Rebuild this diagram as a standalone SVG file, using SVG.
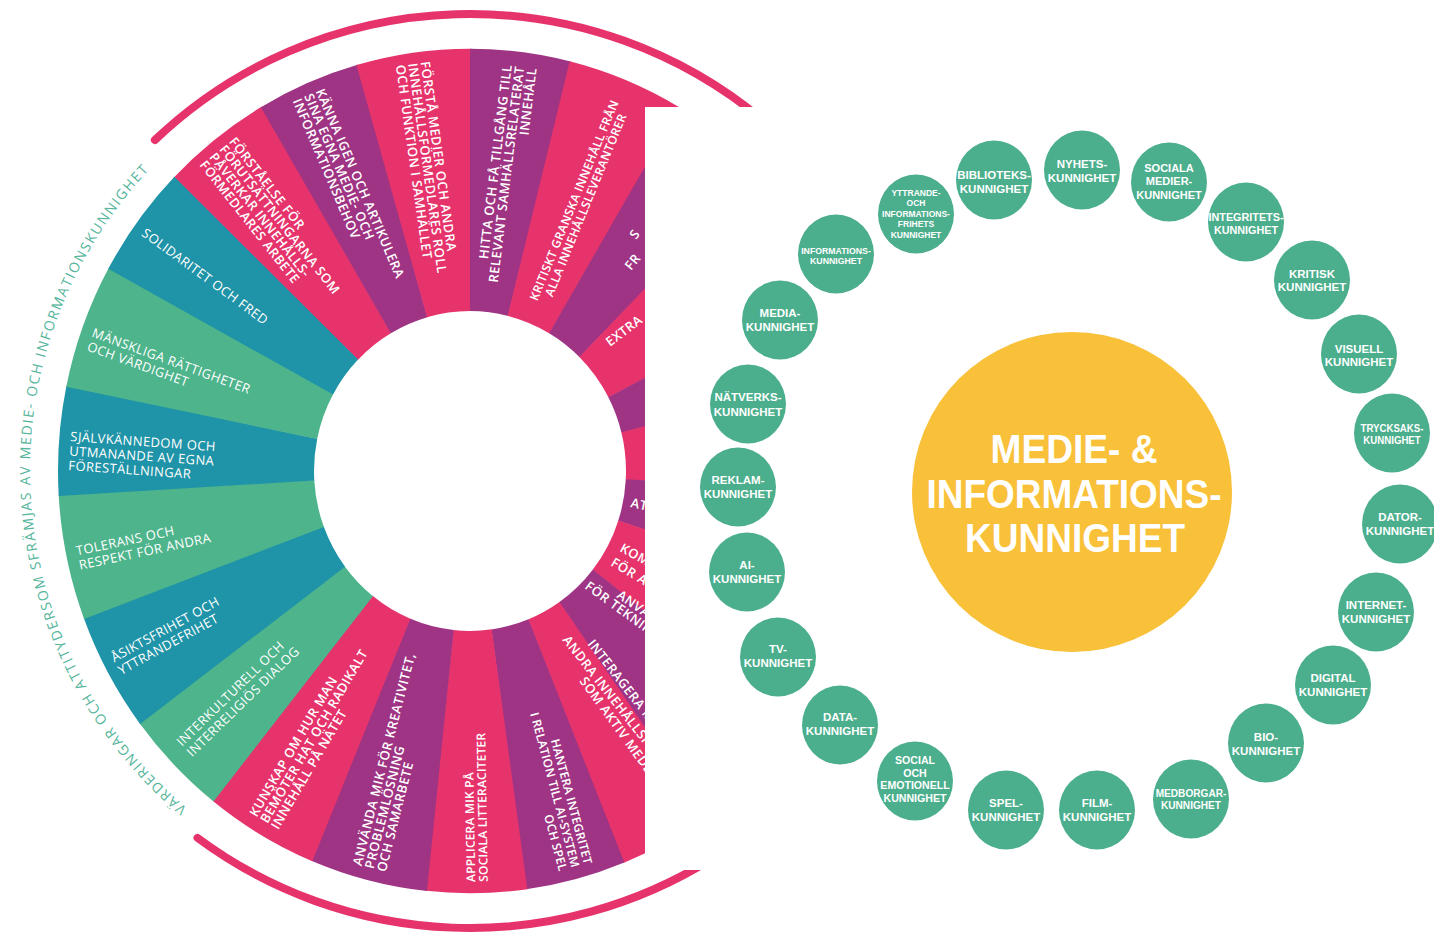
<svg xmlns="http://www.w3.org/2000/svg" xmlns:xlink="http://www.w3.org/1999/xlink" width="1434" height="935" viewBox="0 0 1434 935">
<style>
.s{fill:none;stroke-width:256}
.pk{stroke:#E6336B}
.pu{stroke:#9E3483}
.te{stroke:#1F93A7}
.gr{stroke:#4DB48B}
.val{font-family:"Open Sans","Liberation Sans",sans-serif;font-size:13px;font-weight:400;fill:#fff;letter-spacing:0.4px}
.mik{font-family:"Open Sans","Liberation Sans",sans-serif;font-size:13px;font-weight:600;fill:#fff;letter-spacing:0.5px}
.sm{font-size:12px;letter-spacing:0.2px}
.e{text-anchor:end}
.m{text-anchor:middle}
.arc{fill:none;stroke:#E6336B;stroke-width:8;stroke-linecap:round}
.curve{font-family:"Open Sans","Liberation Sans",sans-serif;font-size:14px;fill:#55B59B;letter-spacing:1.2px}
.node{fill:#4BAE8C}
.nt{font-family:"Liberation Sans",Arial,sans-serif;font-weight:700;font-size:11.5px;fill:#fff;text-anchor:middle}
.ct{font-family:"Liberation Sans",Arial,sans-serif;font-weight:700;font-size:41px;fill:#fff;text-anchor:middle}
</style>
<defs>
<path id="vpath" d="M 187.2 808.1 A 440 440 0 0 1 153.5 165.3" fill="none"/>
</defs>
<rect width="1434" height="935" fill="#fff"/>

<g id="wheel" transform="translate(470 471) scale(1 1.025)">
<circle class="s pk" r="284" transform="rotate(-136)" stroke-dasharray="77.6 2000"/>
<circle class="s pu" r="284" transform="rotate(-120.5)" stroke-dasharray="72.7 2000"/>
<circle class="s pk" r="284" transform="rotate(-106)" stroke-dasharray="80.1 2000"/>
<circle class="s pu" r="284" transform="rotate(-90)" stroke-dasharray="70.2 2000"/>
<circle class="s pk" r="284" transform="rotate(-76)" stroke-dasharray="82.6 2000"/>
<circle class="s pu" r="284" transform="rotate(-59.5)" stroke-dasharray="70.2 2000"/>
<circle class="s pk" r="284" transform="rotate(-45.5)" stroke-dasharray="90 2000"/>
<circle class="s pu" r="284" transform="rotate(-27.5)" stroke-dasharray="67.7 2000"/>
<circle class="s pk" r="284" transform="rotate(-14)" stroke-dasharray="85.1 2000"/>
<circle class="s pu" r="284" transform="rotate(3)" stroke-dasharray="75.2 2000"/>
<circle class="s pk" r="284" transform="rotate(18)" stroke-dasharray="99.9 2000"/>
<circle class="s pu" r="284" transform="rotate(38)" stroke-dasharray="85.1 2000"/>
<circle class="s pk" r="284" transform="rotate(55)" stroke-dasharray="65.2 2000"/>
<circle class="s pu" r="284" transform="rotate(68)" stroke-dasharray="70.2 2000"/>
<circle class="s pk" r="284" transform="rotate(82)" stroke-dasharray="70.2 2000"/>
<circle class="s pu" r="284" transform="rotate(96)" stroke-dasharray="82.6 2000"/>
<circle class="s pk" r="284" transform="rotate(112.5)" stroke-dasharray="80.1 2000"/>
<circle class="s gr" r="284" transform="rotate(128.5)" stroke-dasharray="73.7 2000"/>
<circle class="s te" r="284" transform="rotate(143.2)" stroke-dasharray="81.6 2000"/>
<circle class="s gr" r="284" transform="rotate(159.5)" stroke-dasharray="85.6 2000"/>
<circle class="s te" r="284" transform="rotate(176.6)" stroke-dasharray="74.7 2000"/>
<circle class="s gr" r="284" transform="rotate(191.5)" stroke-dasharray="85.6 2000"/>
<circle class="s te" r="284" transform="rotate(208.6)" stroke-dasharray="77.1 2000"/>
</g>

<g id="wheel-labels">
<g id="l-solidaritet" class="val" transform="translate(470 471) rotate(36.3)"><text x="-405" y="4.6">SOLIDARITET OCH FRED</text></g>
<g id="l-manskliga" class="val" transform="translate(470 471) rotate(20)"><text x="-402" y="3.3">MÄNSKLIGA RÄTTIGHETER</text><text x="-402" y="17.8">OCH VÄRDIGHET</text></g>
<g id="l-sjalvkannedom" class="val" transform="translate(470 471) rotate(4)"><text x="-401" y="-2">SJÄLVKÄNNEDOM OCH</text><text x="-401" y="12.5">UTMANANDE AV EGNA</text><text x="-401" y="27">FÖRESTÄLLNINGAR</text></g>
<g id="l-tolerans" class="val" transform="translate(470 471) rotate(-11.95)"><text x="-402" y="1.4">TOLERANS OCH</text><text x="-402" y="15.9">RESPEKT FÖR ANDRA</text></g>
<g id="l-asiktsfrihet" class="val" transform="translate(470 471) rotate(-28.65)"><text x="-404" y="-2.6">ÅSIKTSFRIHET OCH</text><text x="-404" y="11.9">YTTRANDEFRIHET</text></g>
<g id="l-interkulturell" class="val" transform="translate(470 471) rotate(-44.15)"><text x="-399" y="-2.6">INTERKULTURELL OCH</text><text x="-399" y="11.9">INTERRELIGIÖS DIALOG</text></g>

<g id="l-kunskap" class="mik" transform="translate(470 471) rotate(-59.5)"><text x="-407" y="-7.9">KUNSKAP OM HUR MAN</text><text x="-407" y="4.6">BEMÖTER HAT OCH RADIKALT</text><text x="-407" y="17.1">INNEHÅLL PÅ NÄTET</text></g>
<g id="l-anvanda" class="mik" transform="translate(470 471) rotate(-75.75)"><text x="-410" y="-7.9">ANVÄNDA MIK FÖR KREATIVITET,</text><text x="-410" y="4.6">PROBLEMLÖSNING</text><text x="-410" y="17.1">OCH SAMARBETE</text></g>
<g id="l-applicera" class="mik sm" transform="translate(470 471) rotate(-91)"><text x="-411" y="-1.9">APPLICERA MIK PÅ</text><text x="-411" y="10.6">SOCIALA LITTERACITETER</text></g>
<g id="l-hantera" class="mik sm e" transform="translate(470 471) rotate(75)"><text x="410" y="-8.2">HANTERA INTEGRITET</text><text x="410" y="4.8">I RELATION TILL AI-SYSTEM</text><text x="410" y="17.8">OCH SPEL</text></g>
<g id="l-forstaelse" class="mik" transform="translate(470 471) rotate(51.75)"><text x="-408" y="-14.1">FÖRSTÅELSE FÖR</text><text x="-408" y="-1.6">FÖRUTSÄTTNINGARNA SOM</text><text x="-408" y="10.9">PÅVERKAR INNEHÅLLS-</text><text x="-408" y="23.4">FÖRMEDLARES ARBETE</text></g>
<g id="l-kanna" class="mik" transform="translate(470 471) rotate(66.75)"><text x="-410" y="-7.9">KÄNNA IGEN OCH ARTIKULERA</text><text x="-410" y="4.6">SINA EGNA MEDIE- OCH</text><text x="-410" y="17.1">INFORMATIONSBEHOV</text></g>
<g id="l-forsta" class="mik" transform="translate(470 471) rotate(82)"><text x="-412" y="-7.9">FÖRSTÅ MEDIER OCH ANDRA</text><text x="-412" y="4.6">INNEHÅLLSFÖRMEDLARES ROLL</text><text x="-412" y="17.1">OCH FUNKTION I SAMHÄLLET</text></g>
<g id="l-hitta" class="mik e" transform="translate(470 471) rotate(-83)"><text x="408" y="-7.9">HITTA OCH FÅ TILLGÅNG TILL</text><text x="408" y="4.6">RELEVANT SAMHÄLLSRELATERAT</text><text x="408" y="17.1">INNEHÅLL</text></g>
<g id="l-kritiskt" class="mik m" transform="translate(470 471) rotate(-67.75)" style="font-size:12px;letter-spacing:0.3px"><text x="290" y="-1.9">KRITISKT GRANSKA INNEHÅLL FRÅN</text><text x="290" y="10.6">ALLA INNEHÅLLSLEVERANTÖRER</text></g>

<g id="l-fragments" class="mik">
<text transform="translate(636 240) rotate(-53)">S</text>
<text transform="translate(631 271) rotate(-51)">FR</text>
<text transform="translate(610 347) rotate(-37)">EXTRA</text>
<text transform="translate(630 507) rotate(12)">AT</text>
<text transform="translate(619 551) rotate(28)">KOM</text>
<text transform="translate(610 565) rotate(31)">FÖR A</text>
<text transform="translate(616 597) rotate(35)">ANVÄ</text>
<text transform="translate(584 588) rotate(36)">FÖR TEKNIK</text>
<text transform="translate(587 644) rotate(52)">INTERAGERA ME</text>
<text transform="translate(562 640) rotate(52)">ANDRA INNEHÅLLSPRO</text>
<text transform="translate(579 681) rotate(54)">SOM AKTIV MEDB</text>
</g>
</g>

<g id="outer-arcs">
<path class="arc" d="M 154.9 140 A 457 457 0 0 1 763.8 120.9"/>
<path class="arc" d="M 197.5 837.9 A 457 457 0 0 0 712.2 858.5"/>
</g>

<g id="values-caption">
<text class="curve"><textPath href="#vpath" xlink:href="#vpath" textLength="716" lengthAdjust="spacing">VÄRDERINGAR OCH ATTITYDERSOM SFRÄMJAS AV MEDIE- OCH INFORMATIONSKUNNIGHET</textPath></text>
</g>

<rect id="cover" x="645" y="107" width="789" height="763" fill="#fff"/>

<g id="connectors"></g>

<g id="mik-center">
<circle cx="1072" cy="492" r="160" fill="#F9C03A"/>
<text class="ct" x="1074" y="463" textLength="167" lengthAdjust="spacingAndGlyphs">MEDIE- &amp;</text>
<text class="ct" x="1074" y="508" textLength="295" lengthAdjust="spacingAndGlyphs">INFORMATIONS-</text>
<text class="ct" x="1075" y="552" textLength="220" lengthAdjust="spacingAndGlyphs">KUNNIGHET</text>
</g>

<g id="nodes">
<g id="n-biblioteks"><ellipse class="node" cx="994" cy="180" rx="38" ry="39.5"/><text class="nt" x="994" y="179.2">BIBLIOTEKS-</text><text class="nt" x="994" y="192.5">KUNNIGHET</text></g>
<g id="n-nyhets"><ellipse class="node" cx="1082" cy="170" rx="38" ry="39.5"/><text class="nt" x="1082" y="167.5">NYHETS-</text><text class="nt" x="1082" y="181.5">KUNNIGHET</text></g>
<g id="n-sociala"><ellipse class="node" cx="1169" cy="182" rx="38" ry="39.5"/><g transform="translate(1169 182) scale(0.96)"><text class="nt" x="0" y="-10.2">SOCIALA</text><text class="nt" x="0" y="3.3">MEDIER-</text><text class="nt" x="0" y="17.9">KUNNIGHET</text></g></g>
<g id="n-integritets"><ellipse class="node" cx="1246" cy="222" rx="38" ry="39.5"/><g transform="translate(1246 222) scale(0.94)"><text class="nt" x="0" y="-0.9">INTEGRITETS-</text><text class="nt" x="0" y="12.7">KUNNIGHET</text></g></g>
<g id="n-kritisk"><ellipse class="node" cx="1312" cy="280" rx="38" ry="39.5"/><text class="nt" x="1312" y="277.5">KRITISK</text><text class="nt" x="1312" y="290.9">KUNNIGHET</text></g>
<g id="n-visuell"><ellipse class="node" cx="1359" cy="354" rx="38" ry="39.5"/><text class="nt" x="1359" y="352.5">VISUELL</text><text class="nt" x="1359" y="365.9">KUNNIGHET</text></g>
<g id="n-trycksaks"><ellipse class="node" cx="1392" cy="433" rx="38" ry="39.5"/><g transform="translate(1392 433) scale(0.84 0.92)"><text class="nt" x="0" y="-1.4">TRYCKSAKS-</text><text class="nt" x="0" y="12.1">KUNNIGHET</text></g></g>
<g id="n-dator"><ellipse class="node" cx="1400" cy="524" rx="38" ry="39.5"/><text class="nt" x="1400" y="520.9">DATOR-</text><text class="nt" x="1400" y="534.9">KUNNIGHET</text></g>
<g id="n-internet"><ellipse class="node" cx="1376" cy="612" rx="38" ry="39.5"/><text class="nt" x="1376" y="609.2">INTERNET-</text><text class="nt" x="1376" y="623.2">KUNNIGHET</text></g>
<g id="n-digital"><ellipse class="node" cx="1333" cy="685" rx="38" ry="39.5"/><text class="nt" x="1333" y="681.5">DIGITAL</text><text class="nt" x="1333" y="695.5">KUNNIGHET</text></g>
<g id="n-bio"><ellipse class="node" cx="1266" cy="743" rx="38" ry="39.5"/><text class="nt" x="1266" y="740.9">BIO-</text><text class="nt" x="1266" y="754.9">KUNNIGHET</text></g>
<g id="n-medborgar"><ellipse class="node" cx="1191" cy="799" rx="38" ry="39.5"/><g transform="translate(1191 799) scale(0.88 0.9)"><text class="nt" x="0" y="-1.8">MEDBORGAR-</text><text class="nt" x="0" y="11.6">KUNNIGHET</text></g></g>
<g id="n-film"><ellipse class="node" cx="1097" cy="810" rx="38" ry="39.5"/><text class="nt" x="1097" y="806.9">FILM-</text><text class="nt" x="1097" y="820.9">KUNNIGHET</text></g>
<g id="n-spel"><ellipse class="node" cx="1006" cy="810" rx="38" ry="39.5"/><text class="nt" x="1006" y="806.9">SPEL-</text><text class="nt" x="1006" y="820.9">KUNNIGHET</text></g>
<g id="n-social"><ellipse class="node" cx="915" cy="781" rx="38" ry="39.5"/><g transform="translate(915 781) scale(0.92)"><text class="nt" x="0" y="-18.4">SOCIAL</text><text class="nt" x="0" y="-4.7">OCH</text><text class="nt" x="0" y="8.5">EMOTIONELL</text><text class="nt" x="0" y="22.8">KUNNIGHET</text></g></g>
<g id="n-data"><ellipse class="node" cx="840" cy="725" rx="38" ry="39.5"/><text class="nt" x="840" y="720.9">DATA-</text><text class="nt" x="840" y="734.9">KUNNIGHET</text></g>
<g id="n-tv"><ellipse class="node" cx="778" cy="657" rx="38" ry="39.5"/><text class="nt" x="778" y="653.2">TV-</text><text class="nt" x="778" y="666.9">KUNNIGHET</text></g>
<g id="n-ai"><ellipse class="node" cx="747" cy="572" rx="38" ry="39.5"/><text class="nt" x="747" y="568.5">AI-</text><text class="nt" x="747" y="582.5">KUNNIGHET</text></g>
<g id="n-reklam"><ellipse class="node" cx="738" cy="487" rx="38" ry="39.5"/><text class="nt" x="738" y="484.2">REKLAM-</text><text class="nt" x="738" y="498.2">KUNNIGHET</text></g>
<g id="n-natverks"><ellipse class="node" cx="748" cy="404" rx="38" ry="39.5"/><text class="nt" x="748" y="400.9">NÄTVERKS-</text><text class="nt" x="748" y="415.9">KUNNIGHET</text></g>
<g id="n-media"><ellipse class="node" cx="780" cy="320" rx="38" ry="39.5"/><text class="nt" x="780" y="316.9">MEDIA-</text><text class="nt" x="780" y="330.9">KUNNIGHET</text></g>
<g id="n-informations"><ellipse class="node" cx="836" cy="254" rx="38" ry="39.5"/><g transform="translate(836 254) scale(0.76)"><text class="nt" x="0" y="0">INFORMATIONS-</text><text class="nt" x="0" y="13.2">KUNNIGHET</text></g></g>
<g id="n-yttrande"><ellipse class="node" cx="916" cy="214" rx="38" ry="39.5"/><g transform="translate(916 214) scale(0.74)"><text class="nt" x="0" y="-24.7">YTTRANDE-</text><text class="nt" x="0" y="-10.4">OCH</text><text class="nt" x="0" y="4.5">INFORMATIONS-</text><text class="nt" x="0" y="17.6">FRIHETS</text><text class="nt" x="0" y="32.4">KUNNIGHET</text></g></g>
</g>
</svg>
